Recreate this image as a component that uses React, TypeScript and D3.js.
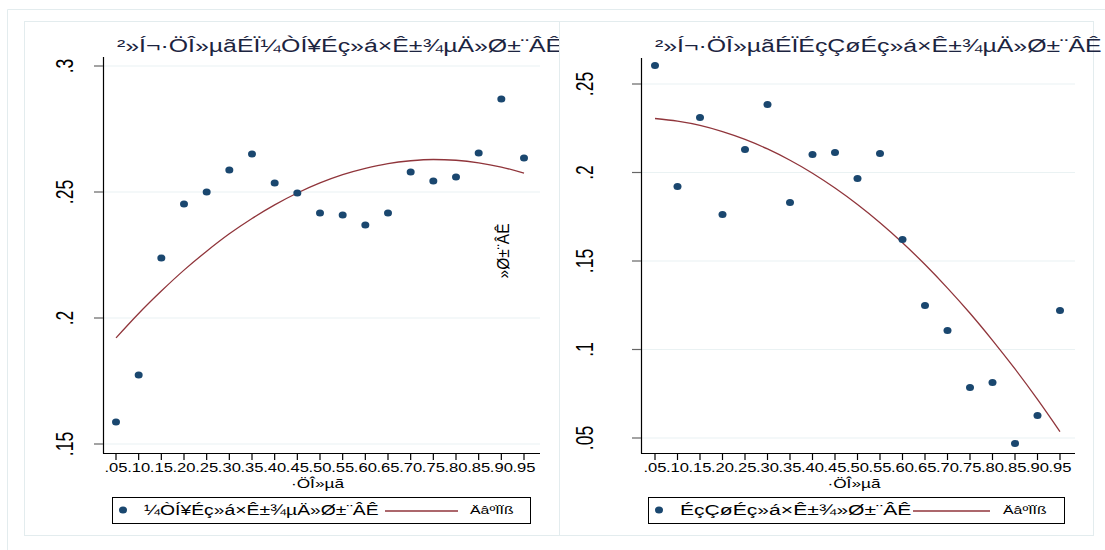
import React, { useEffect, useRef } from "react";
import * as d3 from "d3";

// quantile points (x axis)
const quantiles = [0.05, 0.1, 0.15, 0.2, 0.25, 0.3, 0.35, 0.4, 0.45, 0.5, 0.55, 0.6, 0.65, 0.7, 0.75, 0.8, 0.85, 0.9, 0.95];

// family social capital returns (left panel)
const familyReturns = [0.1587, 0.1774, 0.2238, 0.2452, 0.25, 0.2587, 0.2651, 0.2536, 0.2496, 0.2417, 0.2409, 0.2369, 0.2417, 0.2579, 0.2544, 0.256, 0.2655, 0.2869, 0.2635];
const familyFit = [0.1921, 0.2018, 0.2107, 0.219, 0.2265, 0.2334, 0.2395, 0.2449, 0.2496, 0.2536, 0.2569, 0.2594, 0.2613, 0.2624, 0.2629, 0.2626, 0.2616, 0.2599, 0.2575];

// community social capital returns (right panel)
const communityReturns = [0.2605, 0.1921, 0.2311, 0.1763, 0.213, 0.2384, 0.1831, 0.2102, 0.2113, 0.1966, 0.2107, 0.1621, 0.1249, 0.1107, 0.0785, 0.0814, 0.0469, 0.0627, 0.122];
const communityFit = [0.2305, 0.229, 0.2266, 0.2231, 0.2187, 0.2133, 0.2069, 0.1996, 0.1912, 0.1819, 0.1716, 0.1603, 0.148, 0.1347, 0.1205, 0.1052, 0.089, 0.0718, 0.0536];

const leftYTicks = [0.15, 0.2, 0.25, 0.3];
const rightYTicks = [0.05, 0.1, 0.15, 0.2, 0.25];

const titles = ["²»Í¬·ÖÎ»µãÉÏ¼ÒÍ¥Éç»á×Ê±¾µÄ»Ø±¨ÂÊ", "²»Í¬·ÖÎ»µãÉÏÉçÇøÉç»á×Ê±¾µÄ»Ø±¨ÂÊ"];
const legendLabels = ["¼ÒÍ¥Éç»á×Ê±¾µÄ»Ø±¨ÂÊ", "ÉçÇøÉç»á×Ê±¾»Ø±¨ÂÊ"];
const fitLabel = "ÄâºÏÏß";
const xTitle = "·ÖÎ»µã";
const yTitle = "»Ø±¨ÂÊ";

const FONT = "'Liberation Sans', Arial, sans-serif";
const NAVY = "#1a476f";
const MAROON = "#90353b";
const FRAME = "#e3ecee";
const GRID = "#eaf2f3";
const TEXT = "#1c2440";
const SX = 1.38; // the picture is stretched sideways

const App = () => {
  const ref = useRef<SVGSVGElement | null>(null);

  useEffect(() => {
    document.body.style.margin = "0";
    const svg = d3.select(ref.current);
    svg.selectAll("*").remove();

    svg.append("rect").attr("width", 1105).attr("height", 550).attr("fill", "#fff");
    // outer frame
    svg.append("path").attr("d", "M7.5,550 V9.5 H1105").attr("fill", "none").attr("stroke", FRAME);

    const panels = [
      {
        box: [24, 559], axisX: [103, 540], axisY: [453, 57],
        x: d3.scaleLinear().domain([0.05, 0.95]).range([116, 524]),
        y: d3.scaleLinear().domain([0.15, 0.3]).range([444, 66]),
        yTicks: leftYTicks, values: familyReturns, fit: familyFit,
        title: titles[0], legend: legendLabels[0], titleX: 117, yLabX: 65,
        legendBox: [112, 530], lineSeg: [385, 458], fitX: 470, legendSize: 14, showYTitle: true,
      },
      {
        box: [559, 1093], axisX: [641, 1075], axisY: [453, 58],
        x: d3.scaleLinear().domain([0.05, 0.95]).range([655, 1060]),
        y: d3.scaleLinear().domain([0.05, 0.25]).range([438, 84]),
        yTicks: rightYTicks, values: communityReturns, fit: communityFit,
        title: titles[1], legend: legendLabels[1], titleX: 655, yLabX: 585,
        legendBox: [648, 1064], lineSeg: [913, 990], fitX: 1003, legendSize: 15.3, showYTitle: false,
      },
    ];

    const yFmt = (v: number) => d3.format(".2~f")(v).replace(/^0/, "");
    const xFmt = (v: number) => d3.format(".2f")(v).replace(/^0/, "");

    panels.forEach((p) => {
      const g = svg.append("g");
      g.append("rect")
        .attr("x", p.box[0] + 0.5).attr("y", 21.5)
        .attr("width", p.box[1] - p.box[0]).attr("height", 514)
        .attr("fill", "#fff").attr("stroke", FRAME);

      // grid
      g.selectAll(".grid").data(p.yTicks).enter().append("line")
        .attr("x1", p.axisX[0]).attr("x2", p.axisX[1])
        .attr("y1", (d) => p.y(d)).attr("y2", (d) => p.y(d))
        .attr("stroke", GRID).attr("stroke-width", 1.2);

      // axes
      g.append("line").attr("x1", p.axisX[0] + 0.5).attr("x2", p.axisX[0] + 0.5)
        .attr("y1", p.axisY[1]).attr("y2", p.axisY[0] + 0.5).attr("stroke", "#000").attr("stroke-width", 1.2);
      g.append("line").attr("x1", p.axisX[0]).attr("x2", p.axisX[1])
        .attr("y1", p.axisY[0] + 0.5).attr("y2", p.axisY[0] + 0.5).attr("stroke", "#000").attr("stroke-width", 1.2);

      // y ticks
      g.selectAll(".yt").data(p.yTicks).enter().append("line")
        .attr("x1", p.axisX[0] - 9).attr("x2", p.axisX[0])
        .attr("y1", (d) => p.y(d)).attr("y2", (d) => p.y(d))
        .attr("stroke", "#666").attr("stroke-width", 1.2);
      g.selectAll(".yl").data(p.yTicks).enter().append("text")
        .attr("transform", (d) => `translate(${p.yLabX},${p.y(d)}) scale(${SX},1) rotate(-90)`)
        .attr("text-anchor", "middle").attr("dy", "0.35em")
        .attr("font-family", FONT).attr("font-size", 17.5).attr("fill", "#000")
        .text((d) => yFmt(d));

      // x ticks
      g.selectAll(".xt").data(quantiles).enter().append("line")
        .attr("x1", (d) => p.x(d)).attr("x2", (d) => p.x(d))
        .attr("y1", p.axisY[0]).attr("y2", p.axisY[0] + 7)
        .attr("stroke", "#000").attr("stroke-width", 1.2);
      g.selectAll(".xl").data(quantiles).enter().append("text")
        .attr("transform", (d) => `translate(${p.x(d)},472) scale(${SX},1)`)
        .attr("text-anchor", "middle")
        .attr("font-family", FONT).attr("font-size", 12).attr("fill", "#000")
        .text((d) => xFmt(d));

      const cx = (p.axisX[0] + p.axisX[1]) / 2 - 4;
      g.append("text").attr("transform", `translate(${cx},488) scale(${SX},1)`).attr("text-anchor", "middle")
        .attr("font-family", FONT).attr("font-size", 12.5).attr("fill", "#000").text(xTitle);

      // fit line
      const line = d3.line<number>()
        .x((_, i) => p.x(quantiles[i]))
        .y((d) => p.y(d))
        .curve(d3.curveMonotoneX);
      g.append("path").attr("d", line(p.fit)).attr("fill", "none")
        .attr("stroke", MAROON).attr("stroke-width", 1.3);

      // points
      g.selectAll(".pt").data(p.values).enter().append("ellipse")
        .attr("cx", (_, i) => p.x(quantiles[i])).attr("cy", (d) => p.y(d))
        .attr("rx", 4).attr("ry", 3.5).attr("fill", NAVY);

      if (p.showYTitle) {
        g.append("text").attr("transform", `translate(503,251) scale(1.1,1) rotate(-90)`)
          .attr("text-anchor", "middle").attr("dy", "0.35em")
          .attr("font-family", FONT).attr("font-size", 15.5).attr("fill", "#000").text(yTitle);
      }

      // title
      g.append("text").attr("transform", `translate(${p.titleX},52) scale(${SX},1)`)
        .attr("font-family", FONT).attr("font-size", 18).attr("fill", TEXT).text(p.title);

      // legend
      const lg = g.append("g");
      lg.append("rect").attr("x", p.legendBox[0] + 0.5).attr("y", 497.5)
        .attr("width", p.legendBox[1] - p.legendBox[0]).attr("height", 26)
        .attr("fill", "#fff").attr("stroke", "#000").attr("stroke-width", 1);
      lg.append("ellipse").attr("cx", p.legendBox[0] + 11).attr("cy", 510).attr("rx", 4).attr("ry", 3.5).attr("fill", NAVY);
      lg.append("text").attr("transform", `translate(${p.legendBox[0] + 32},515) scale(${SX},1)`)
        .attr("font-family", FONT).attr("font-size", p.legendSize).attr("fill", "#000").text(p.legend);
      lg.append("line").attr("x1", p.lineSeg[0]).attr("x2", p.lineSeg[1]).attr("y1", 511).attr("y2", 511)
        .attr("stroke", MAROON).attr("stroke-width", 1.3);
      lg.append("text").attr("transform", `translate(${p.fitX},514) scale(${SX},1)`)
        .attr("font-family", FONT).attr("font-size", 11.5).attr("fill", "#000").text(fitLabel);
    });
  }, []);

  return <svg ref={ref} width={1105} height={550} style={{ display: "block" }} />;
};

export default App;
